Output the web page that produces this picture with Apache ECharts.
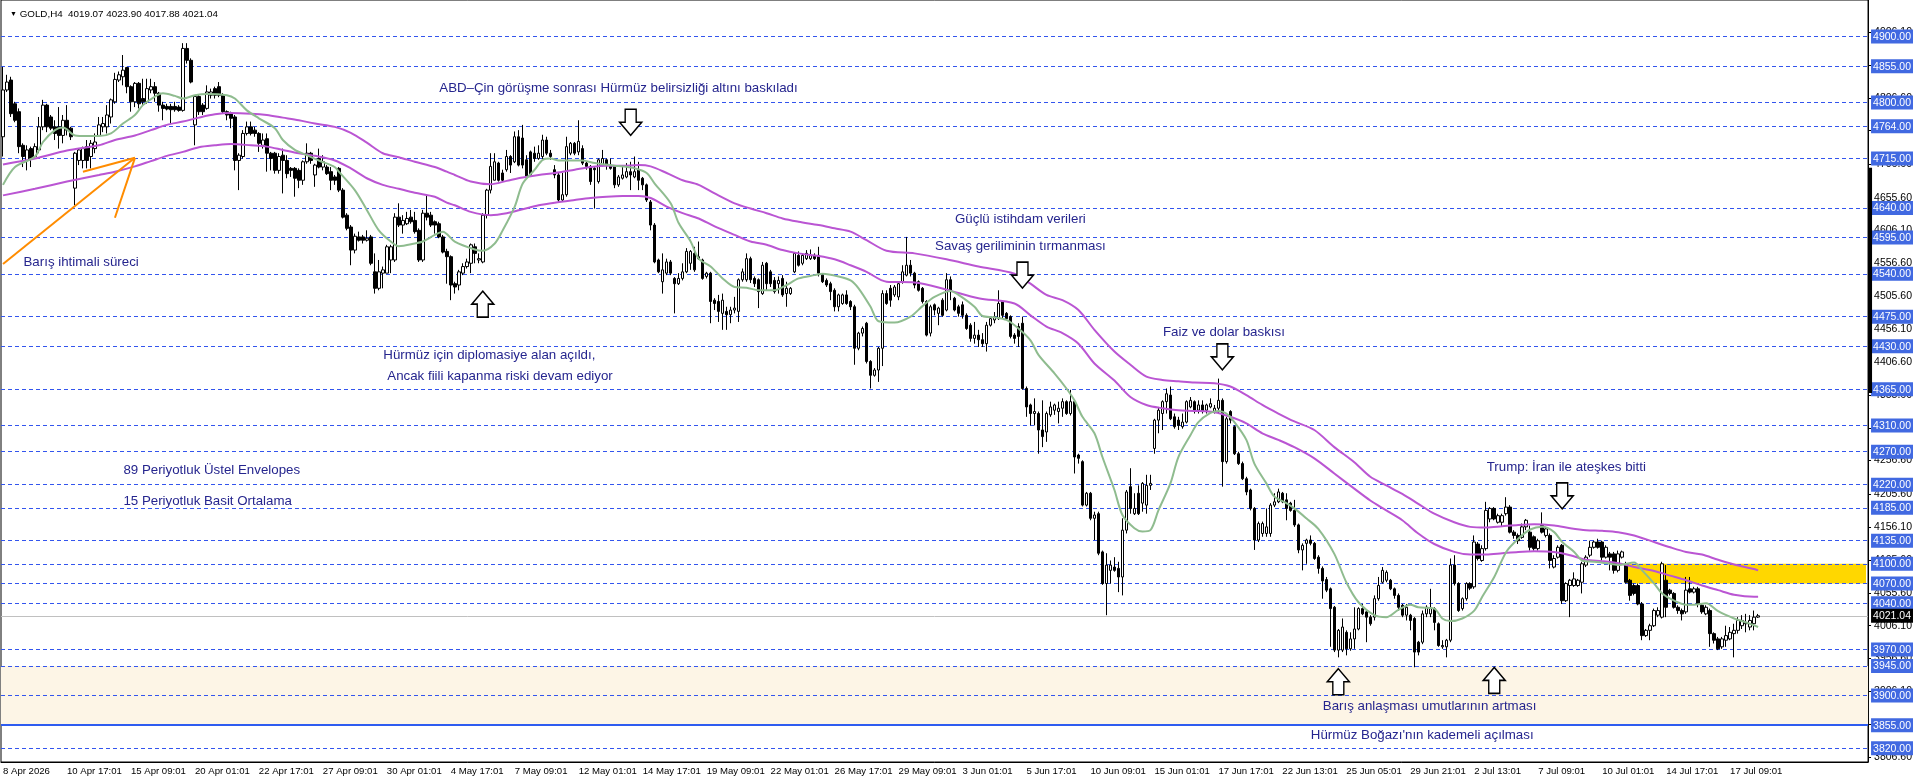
<!DOCTYPE html>
<html>
<head>
<meta charset="utf-8">
<title>GOLD,H4</title>
<script src="https://cdn.jsdelivr.net/npm/echarts@6/dist/echarts.min.js"></script>
<style>
html,body{margin:0;padding:0;background:#fff;}
#chart{width:1916px;height:782px;}
</style>
</head>
<body>
<div id="chart"></div>
<script>
var FONT = 'Liberation Sans, Arial, sans-serif';
var symbolName = 'GOLD,H4';
var lastOHLC = [4019.07, 4023.90, 4017.88, 4021.04]; // O H L C
var yMin = 3799.2, yMax = 4955.5;
var slotCount = 467; // 440 bars + empty space on the right

var dateLabels = ['8 Apr 2026','10 Apr 17:01','15 Apr 09:01','20 Apr 01:01','22 Apr 17:01','27 Apr 09:01',
  '30 Apr 01:01','4 May 17:01','7 May 09:01','12 May 01:01','14 May 17:01','19 May 09:01','22 May 01:01',
  '26 May 17:01','29 May 09:01','3 Jun 01:01','5 Jun 17:01','10 Jun 09:01','15 Jun 01:01','17 Jun 17:01',
  '22 Jun 13:01','25 Jun 05:01','29 Jun 21:01','2 Jul 13:01','7 Jul 09:01','10 Jul 01:01','14 Jul 17:01','17 Jul 09:01'];

// [open, close, low, high]
var candles = [
[4748,4819,4718,4854],[4819,4831,4816,4842],[4834,4783,4778,4839],[4798,4773,4770,4801],[4786,4733,4723,4791],[4735,4718,4702,4738],[4712,4728,4697,4735],[4730,4715,4702,4733],
[4718,4733,4715,4738],[4728,4763,4723,4778],[4763,4796,4758,4804],[4796,4763,4755,4798],[4778,4761,4758,4781],[4763,4753,4743,4773],[4763,4750,4730,4793],[4750,4773,4738,4781],
[4773,4758,4750,4796],[4761,4748,4743,4763],[4670,4723,4644,4725],[4712,4728,4705,4730],[4712,4730,4700,4733],[4733,4712,4700,4743],[4718,4738,4700,4743],[4730,4740,4723,4753],
[4750,4766,4748,4778],[4763,4768,4755,4778],[4763,4781,4753,4796],[4778,4804,4768,4806],[4801,4835,4798,4845],[4834,4842,4831,4847],[4839,4849,4826,4872],[4853,4824,4814,4854],
[4824,4801,4786,4826],[4801,4829,4793,4831],[4829,4798,4791,4831],[4806,4801,4796,4836],[4801,4821,4798,4836],[4819,4824,4814,4836],[4824,4814,4801,4831],[4814,4796,4786,4816],
[4796,4791,4773,4801],[4794,4790,4788,4798],[4794,4789,4768,4798],[4794,4789,4786,4801],[4793,4788,4786,4796],[4788,4882,4786,4890],[4882,4864,4859,4890],[4864,4831,4829,4867],
[4766,4809,4735,4811],[4809,4786,4781,4811],[4796,4786,4781,4799],[4791,4816,4789,4826],[4811,4816,4806,4821],[4821,4811,4806,4824],[4824,4811,4808,4831],[4811,4786,4783,4814],
[4786,4781,4773,4788],[4783,4776,4761,4786],[4778,4712,4697,4781],[4712,4720,4667,4723],[4718,4753,4715,4758],[4753,4763,4750,4771],[4763,4753,4750,4771],[4758,4753,4748,4763],
[4753,4738,4725,4755],[4735,4743,4730,4753],[4745,4723,4695,4753],[4723,4715,4697,4725],[4723,4697,4692,4725],[4697,4718,4692,4723],[4720,4712,4662,4730],[4712,4692,4685,4720],
[4700,4697,4687,4702],[4700,4685,4657,4702],[4697,4682,4670,4700],[4682,4710,4675,4712],[4710,4723,4707,4738],[4723,4712,4707,4725],[4690,4705,4672,4707],[4715,4702,4700,4730],
[4702,4710,4697,4720],[4702,4692,4690,4705],[4695,4682,4667,4702],[4687,4682,4675,4690],[4700,4667,4664,4702],[4667,4626,4624,4670],[4629,4609,4606,4632],[4611,4576,4553,4614],
[4576,4597,4571,4601],[4596,4591,4589,4604],[4596,4591,4586,4599],[4591,4594,4589,4606],[4596,4556,4553,4599],[4543,4518,4510,4571],[4518,4543,4515,4561],[4541,4546,4518,4551],
[4541,4581,4541,4584],[4561,4581,4541,4584],[4561,4626,4558,4632],[4626,4614,4611,4647],[4614,4621,4601,4629],[4616,4624,4614,4634],[4626,4619,4616,4637],[4621,4604,4601,4634],
[4606,4561,4558,4609],[4561,4632,4558,4637],[4632,4626,4621,4659],[4629,4614,4611,4634],[4619,4614,4601,4621],[4616,4596,4594,4619],[4596,4573,4571,4599],[4574,4566,4525,4578],
[4566,4523,4500,4568],[4525,4520,4510,4528],[4523,4543,4515,4546],[4541,4551,4538,4556],[4551,4558,4548,4563],[4556,4584,4541,4586],[4581,4571,4556,4586],[4561,4563,4556,4571],
[4558,4629,4556,4632],[4629,4667,4624,4669],[4667,4703,4662,4723],[4682,4710,4682,4723],[4708,4682,4680,4710],[4693,4682,4680,4698],[4698,4718,4695,4728],[4718,4705,4693,4720],
[4710,4748,4708,4756],[4748,4705,4703,4758],[4746,4705,4700,4766],[4713,4687,4685,4720],[4725,4690,4688,4727],[4723,4715,4710,4733],[4715,4723,4713,4735],[4718,4743,4713,4751],
[4743,4723,4720,4748],[4723,4718,4713,4728],[4698,4690,4685,4705],[4690,4652,4649,4693],[4652,4660,4649,4693],[4660,4733,4657,4748],[4723,4738,4720,4740],[4738,4723,4720,4740],
[4725,4741,4720,4773],[4730,4708,4705,4735],[4708,4703,4698,4710],[4703,4680,4675,4705],[4700,4698,4639,4703],[4680,4713,4677,4715],[4705,4715,4703,4728],[4713,4705,4698,4715],
[4705,4700,4698,4715],[4703,4675,4670,4705],[4675,4687,4672,4690],[4685,4690,4683,4705],[4687,4695,4685,4708],[4695,4690,4667,4710],[4687,4695,4685,4718],[4698,4682,4667,4710],
[4685,4675,4667,4687],[4675,4652,4649,4677],[4649,4614,4606,4652],[4614,4558,4556,4617],[4561,4543,4541,4563],[4528,4546,4510,4571],[4541,4558,4538,4563],[4558,4541,4538,4561],
[4533,4525,4480,4535],[4525,4533,4523,4541],[4533,4543,4530,4556],[4543,4574,4541,4579],[4556,4574,4546,4576],[4571,4546,4543,4581],[4566,4563,4561,4589],[4561,4533,4531,4563],
[4536,4541,4533,4543],[4541,4498,4465,4543],[4500,4495,4485,4503],[4498,4483,4467,4508],[4480,4500,4455,4510],[4483,4478,4455,4490],[4478,4485,4465,4490],[4485,4488,4480,4505],
[4483,4531,4467,4533],[4531,4543,4528,4548],[4531,4563,4528,4571],[4563,4531,4526,4566],[4533,4525,4520,4536],[4531,4513,4488,4533],[4510,4553,4508,4558],[4556,4525,4515,4558],
[4543,4525,4520,4546],[4530,4513,4510,4535],[4525,4530,4510,4536],[4533,4508,4505,4538],[4510,4518,4490,4528],[4510,4518,4508,4520],[4543,4571,4541,4573],[4568,4553,4551,4574],
[4556,4568,4553,4571],[4563,4571,4561,4576],[4563,4568,4561,4577],[4568,4563,4561,4571],[4568,4541,4536,4581],[4538,4528,4526,4541],[4530,4523,4520,4533],[4525,4513,4500,4528],
[4515,4490,4483,4518],[4490,4508,4483,4510],[4495,4508,4493,4510],[4508,4495,4493,4515],[4498,4490,4485,4500],[4490,4427,4402,4493],[4427,4450,4424,4452],[4450,4457,4445,4460],
[4465,4407,4404,4467],[4407,4386,4366,4409],[4386,4394,4384,4397],[4394,4427,4376,4429],[4427,4510,4400,4515],[4510,4495,4493,4515],[4518,4500,4490,4523],[4508,4520,4505,4523],
[4505,4525,4500,4528],[4528,4543,4525,4553],[4538,4553,4536,4596],[4553,4541,4536,4561],[4541,4523,4518,4543],[4528,4515,4513,4530],[4518,4498,4495,4520],[4498,4447,4445,4500],
[4450,4490,4445,4493],[4493,4485,4477,4495],[4480,4488,4462,4490],[4500,4477,4475,4503],[4485,4531,4483,4541],[4531,4513,4500,4536],[4503,4485,4483,4505],[4490,4480,4475,4493],
[4493,4477,4472,4498],[4477,4457,4455,4480],[4462,4442,4437,4465],[4442,4447,4434,4467],[4447,4440,4429,4455],[4440,4434,4429,4450],[4434,4462,4422,4467],[4462,4472,4460,4475],
[4470,4475,4465,4482],[4472,4495,4470,4515],[4498,4477,4472,4500],[4480,4472,4470,4482],[4475,4445,4442,4477],[4447,4442,4434,4450],[4460,4445,4429,4465],[4465,4366,4364,4475],
[4366,4338,4323,4369],[4341,4328,4310,4343],[4328,4331,4310,4351],[4328,4303,4267,4331],[4303,4293,4277,4348],[4300,4328,4285,4331],[4326,4338,4323,4346],[4333,4341,4326,4343],
[4331,4336,4313,4346],[4336,4346,4323,4351],[4346,4328,4326,4348],[4328,4346,4325,4364],[4346,4262,4237,4348],[4265,4260,4252,4267],[4255,4189,4187,4257],[4189,4207,4187,4209],
[4207,4169,4166,4209],[4169,4174,4136,4179],[4176,4116,4113,4179],[4118,4070,4068,4120],[4070,4098,4022,4116],[4090,4098,4070,4105],[4095,4090,4088,4110],[4093,4080,4057,4103],
[4080,4151,4052,4169],[4151,4209,4146,4212],[4217,4184,4176,4245],[4176,4184,4174,4207],[4207,4176,4174,4219],[4192,4222,4179,4224],[4189,4219,4176,4235],[4219,4222,4212,4235],
[4275,4318,4267,4320],[4318,4333,4298,4338],[4328,4346,4303,4348],[4346,4358,4328,4366],[4356,4320,4318,4369],[4323,4308,4305,4328],[4318,4310,4303,4323],[4308,4315,4305,4328],
[4315,4346,4313,4348],[4338,4348,4336,4353],[4346,4333,4328,4348],[4333,4341,4328,4348],[4341,4331,4328,4348],[4333,4341,4328,4343],[4338,4343,4336,4351],[4331,4336,4328,4341],
[4336,4348,4328,4381],[4348,4255,4217,4351],[4255,4320,4252,4323],[4331,4318,4313,4333],[4308,4267,4265,4310],[4267,4252,4250,4270],[4252,4229,4227,4255],[4229,4209,4204,4232],
[4212,4184,4181,4214],[4184,4136,4121,4186],[4136,4161,4133,4164],[4146,4161,4141,4164],[4146,4156,4141,4184],[4146,4189,4141,4192],[4189,4194,4186,4207],[4194,4209,4192,4214],
[4207,4194,4192,4209],[4197,4184,4166,4207],[4192,4181,4179,4194],[4181,4159,4156,4197],[4159,4121,4116,4161],[4121,4128,4090,4131],[4131,4136,4100,4138],[4136,4131,4128,4143],
[4131,4108,4106,4133],[4110,4093,4085,4113],[4093,4074,4047,4096],[4076,4060,4057,4080],[4062,4032,3974,4064],[4034,3969,3966,4036],[3969,3999,3958,4001],[3969,4004,3966,4017],
[3996,3971,3961,3999],[3971,3986,3968,3996],[3986,4001,3971,4034],[4001,4032,3999,4034],[4032,4024,4022,4039],[4027,4019,3981,4029],[4019,4009,4006,4022],[4019,4047,4014,4052],
[4047,4067,4044,4080],[4072,4090,4070,4095],[4075,4087,4072,4090],[4075,4062,4060,4077],[4062,4052,4047,4064],[4052,4034,4029,4055],[4037,4022,4019,4039],[4022,4034,4014,4039],
[4022,4014,3999,4024],[4017,3966,3943,4019],[3981,3966,3961,3983],[3981,4024,3978,4029],[4024,4034,4019,4037],[4024,4032,4019,4062],[4032,4011,3999,4034],[4009,3976,3974,4011],
[3974,3976,3971,3984],[3974,3984,3958,3986],[3984,4098,3981,4108],[4098,4070,4067,4113],[4070,4029,4027,4072],[4032,4047,4029,4049],[4047,4070,4044,4072],[4070,4063,4060,4072],
[4065,4133,4062,4143],[4130,4108,4105,4133],[4105,4123,4103,4128],[4123,4181,4120,4194],[4168,4184,4163,4186],[4184,4168,4166,4186],[4163,4173,4161,4176],[4163,4173,4156,4176],
[4176,4186,4173,4201],[4186,4148,4146,4189],[4148,4143,4138,4151],[4143,4135,4130,4146],[4140,4156,4138,4161],[4156,4166,4151,4168],[4148,4125,4120,4158],[4141,4123,4120,4143],
[4123,4135,4120,4138],[4158,4148,4146,4178],[4143,4153,4140,4156],[4143,4105,4093,4146],[4095,4108,4093,4113],[4110,4125,4108,4128],[4128,4044,4039,4130],[4044,4070,4042,4072],
[4067,4075,4019,4077],[4067,4077,4065,4087],[4067,4075,4065,4077],[4072,4100,4055,4103],[4098,4110,4095,4113],[4113,4125,4110,4135],[4125,4133,4123,4135],[4133,4125,4123,4138],
[4133,4110,4105,4135],[4110,4125,4108,4128],[4115,4110,4090,4118],[4115,4090,4085,4118],[4090,4115,4087,4120],[4110,4118,4108,4120],[4098,4072,4070,4103],[4075,4052,4044,4077],
[4067,4055,4052,4070],[4067,4039,4037,4070],[4039,3991,3984,4042],[3991,3999,3989,4001],[3999,4006,3984,4009],[4006,4029,4004,4032],[4022,4029,4019,4034],[4019,4100,4017,4103],
[4075,4034,4019,4098],[4060,4055,4052,4062],[4055,4034,4032,4057],[4034,4029,4024,4037],[4029,4024,4014,4032],[4027,4060,4024,4080],[4062,4057,4055,4080],[4057,4062,4055,4065],
[4062,4039,4034,4065],[4037,4027,4024,4039],[4024,4034,4022,4037],[4029,3994,3974,4032],[3994,3984,3979,3996],[3986,3971,3969,3989],[3974,3986,3971,3989],[3984,3991,3974,4006],
[3986,3996,3984,4004],[3994,3999,3958,4009],[3999,4014,3994,4019],[4006,4014,4001,4022],[4009,4011,3996,4024],[4004,4014,3999,4022],[4009,4019,3999,4029],[4019.07,4021.04,4017.88,4023.90]
];

// 15 period SMA, read as [bar, value]
var smaPoints = [[0,4675],[3,4702],[8,4718],[10,4740],[13,4758],[15,4762],[18,4750],[21,4749],[24,4749],[27,4753],[30,4768],
  [33,4781],[35,4796],[38,4809],[40,4814],[43,4810],[45,4806],[48,4811],[51,4813],[56,4811],[58,4806],[61,4788],[64,4776],
  [68,4761],[70,4743],[73,4728],[76,4720],[79,4712],[83,4702],[84,4695],[88,4667],[91,4637],[94,4606],[97,4589],[99,4582],
  [103,4586],[105,4589],[108,4599],[110,4604],[113,4589],[118,4577],[120,4575],[123,4586],[125,4606],[128,4642],[130,4677],
  [133,4698],[135,4713],[137,4715],[139,4712],[143,4712],[145,4712],[148,4708],[153,4704],[155,4703],[158,4700],[161,4693],
  [163,4677],[167,4647],[169,4617],[172,4589],[174,4563],[177,4551],[180,4533],[183,4520],[186,4519],[189,4515],[193,4515],
  [196,4523],[199,4533],[203,4538],[205,4540],[209,4536],[212,4530],[214,4518],[217,4490],[219,4468],[223,4466],[227,4475],
  [230,4491],[233,4505],[237,4514],[239,4508],[243,4490],[245,4476],[248,4474],[251,4470],[254,4457],[257,4439],[259,4417],
  [263,4389],[266,4366],[268,4348],[270,4323],[273,4298],[275,4262],[278,4212],[280,4174],[283,4154],[285,4149],[287,4151],
  [289,4181],[292,4222],[294,4262],[297,4295],[299,4315],[302,4329],[304,4332],[306,4328],[308,4315],[311,4288],[313,4252],
  [316,4222],[318,4202],[321,4192],[323,4184],[326,4169],[329,4153],[333,4115],[336,4072],[339,4042],[343,4022],[346,4019],
  [349,4030],[352,4038],[354,4034],[358,4032],[360,4017],[362,4013],[365,4017],[368,4029],[370,4050],[373,4080],[376,4118],
  [379,4138],[382,4152],[385,4156],[388,4148],[390,4133],[393,4118],[395,4105],[398,4103],[402,4100],[404,4098],[408,4102],
  [410,4090],[413,4070],[415,4055],[418,4044],[421,4038],[423,4038],[426,4040],[429,4028],[433,4017],[436,4011],[439,4004]];

// 89 period exponential envelopes
var envBars = [0,8,16,24,28,33,37,41,45,49,53,57,62,66,70,74,78,83,87,91,95,99,103,108,111,
  113,117,122,126,130,134,138,143,147,151,155,159,162,166,170,174,178,183,187,191,195,199,204,208,212,216,221,
  228,236,244,253,257,261,265,269,273,278,282,286,290,294,298,303,307,311,315,319,323,328,
  333,338,342,346,350,354,358,363,367,371,375,379,383,388,392,396,400,404,408,413,417,421,425,429,433,438,439];
var envUpper = [4706,4715,4727,4735,4743,4750,4758,4766,4771,4777,4782,4784,4783,4781,4777,4773,4768,4763,4754,4739,4723,4717,4710,4702,4695,
  4690,4680,4676,4681,4686,4690,4693,4698,4702,4704,4704,4705,4703,4693,4682,4675,4662,4647,4639,4632,4624,4619,4614,4609,4604,4591,4575,
  4571,4562,4551,4540,4525,4508,4500,4485,4455,4422,4402,4384,4379,4377,4375,4374,4369,4356,4341,4328,4316,4303,
  4277,4254,4232,4219,4206,4191,4176,4163,4156,4155,4157,4159,4160,4158,4154,4151,4150,4148,4143,4133,4125,4118,4114,4106,4099,4092,4090];
var envLower = [4659,4669,4680,4690,4695,4703,4711,4719,4725,4732,4735,4737,4735,4733,4728,4723,4719,4712,4700,4685,4675,4669,4663,4657,4648,
  4644,4634,4629,4632,4638,4644,4648,4652,4655,4657,4658,4658,4655,4642,4632,4624,4612,4599,4589,4584,4576,4571,4567,4562,4553,4543,4528,
  4527,4516,4503,4495,4477,4460,4450,4434,4404,4378,4353,4341,4336,4333,4332,4330,4323,4313,4298,4288,4277,4260,
  4237,4214,4196,4181,4166,4146,4130,4118,4114,4114,4116,4118,4119,4118,4113,4106,4104,4101,4095,4089,4082,4075,4067,4060,4053,4050,4050];

var levels = [4900,4855,4800,4764,4715,4640,4595,4540,4475,4430,4365,4310,4270,4220,4185,4135,4100,4070,4040,3970,3945,3900,3855,3820];
var solidLevel = 3855;
var scaleTicks = [3806.6,3856.1,3906.1,3956.6,4006.1,4055.6,4105.6,4156.1,4205.6,4256.6,4306.1,4355.6,4406.6,4456.1,
  4505.6,4556.6,4606.1,4655.6,4706.6,4758.1,4806.6,4856.1,4906.1];
var supportZone = [3945, 3855];
var resistZone = [406, 4100, 4070]; // from bar, top, bottom
var axisBar = [4701, 4359];

var notes = [
  ['ABD–Çin görüşme sonrası Hürmüz belirsizliği altını baskıladı', 109, 4822],
  ['Barış ihtimali süreci', 5, 4557],
  ['Hürmüz için diplomasiye alan açıldı,', 95, 4417],
  ['Ancak fiili kapanma riski devam ediyor', 96, 4384],
  ['Güçlü istihdam verileri', 238, 4622],
  ['Savaş geriliminin tırmanması', 233, 4581],
  ['Faiz ve dolar baskısı', 290, 4451],
  ['89 Periyotluk Üstel Envelopes', 30, 4242],
  ['15 Periyotluk Basit Ortalama', 30, 4195],
  ['Trump: İran ile ateşkes bitti', 371, 4247],
  ['Barış anlaşması umutlarının artması', 330, 3884],
  ['Hürmüz Boğazı\'nın kademeli açılması', 327, 3839]
];
var arrows = [['down',157,4770],['up',120,4494],['down',255,4538],['down',305,4414],['down',390,4203],['up',334,3921],['up',373,3923]];
var orangeLines = [[[0,4555],[33,4716]],[[28,4625],[33,4716]],[[20,4695],[33,4716]]];

var DOWN = 'path://M5.5,0H16.5V13H22L11,26L0,13H5.5Z';
var UP = 'path://M11,0L22,13H16.5V26H5.5V13H0Z';

var cats = [];
for (var i = 0; i < slotCount; i++) cats.push(String(i));
function isLabelSlot(idx) { return idx % 16 === 0 && idx / 16 < dateLabels.length; }

var chart = echarts.init(document.getElementById('chart'));

var levelLines = levels.map(function (v) {
  if (v === solidLevel) return { yAxis: v, lineStyle: { type: 'solid', width: 2, color: '#2E5CF0' } };
  return { yAxis: v };
});
levelLines.push({ yAxis: lastOHLC[3], lineStyle: { type: 'solid', color: '#C0C0C0', width: 1 } });

var pointMarks = notes.map(function (n) {
  return {
    coord: [n[1], n[2]], symbol: 'circle', symbolSize: 1, itemStyle: { color: 'rgba(0,0,0,0)' },
    label: { show: true, position: 'right', distance: 0, formatter: n[0], color: '#25258E', fontSize: 13.3, fontFamily: FONT }
  };
});
arrows.forEach(function (a) {
  pointMarks.push({
    coord: [a[1], a[2]], symbol: a[0] === 'up' ? UP : DOWN, symbolSize: [22, 26],
    itemStyle: { color: '#fff', borderColor: '#000', borderWidth: 1.5 }, label: { show: false }
  });
});

var option = {
  animation: false,
  backgroundColor: '#fff',
  title: {
    text: '{t|▼} ' + symbolName + '  ' + lastOHLC.map(function (v) { return v.toFixed(2); }).join(' '),
    left: 5, top: 4,
    textStyle: { fontSize: 9.8, fontWeight: 'normal', color: '#000', fontFamily: FONT, rich: { t: { fontSize: 7, color: '#000' } } }
  },
  grid: { left: 1, right: 47, top: 0, bottom: 20, show: true, borderColor: '#000', borderWidth: 1, backgroundColor: 'transparent' },
  xAxis: {
    type: 'category', data: cats, boundaryGap: true,
    axisLine: { lineStyle: { color: '#000', width: 1 } },
    axisTick: { interval: isLabelSlot, alignWithLabel: true, length: 4, lineStyle: { color: '#000' } },
    axisLabel: {
      interval: isLabelSlot, align: 'left', margin: 4, color: '#000', fontSize: 9.6, fontFamily: FONT,
      formatter: function (v, idx) { return isLabelSlot(idx) ? dateLabels[idx / 16] : ''; }
    },
    splitLine: { show: false }
  },
  yAxis: [{
    type: 'value', position: 'right', min: yMin, max: yMax, scale: true,
    splitLine: { show: false },
    axisLine: { show: true, lineStyle: { color: '#000' } },
    axisTick: { show: true, customValues: scaleTicks, length: 3, lineStyle: { color: '#000' } },
    axisLabel: { customValues: scaleTicks, margin: 6, color: '#000', fontSize: 10.5, fontFamily: FONT,
      formatter: function (v) { return v.toFixed(2); } }
  }, {
    type: 'value', position: 'right', min: yMin, max: yMax, z: 10,
    splitLine: { show: false }, axisLine: { show: false }, axisTick: { show: false },
    axisLabel: {
      customValues: levels.concat([lastOHLC[3]]), margin: 3, fontSize: 10.5, fontFamily: FONT,
      formatter: function (v) { return (v === lastOHLC[3] ? '{c|' : '{l|') + v.toFixed(2) + '}'; },
      rich: {
        l: { backgroundColor: '#4169E1', color: '#fff', padding: [2, 2, 1, 2], fontSize: 10.5, fontFamily: FONT },
        c: { backgroundColor: '#000', color: '#fff', padding: [2, 2, 1, 2], fontSize: 10.5, fontFamily: FONT }
      }
    }
  }],
  series: [{
    type: 'line', data: [], z: 1, silent: true,
    markArea: {
      silent: true, z: 1,
      data: [
        [{ yAxis: supportZone[0], itemStyle: { color: '#FDF5E6' } }, { yAxis: supportZone[1] }],
        [{ xAxis: resistZone[0], yAxis: resistZone[1], itemStyle: { color: '#FFD700' } }, { xAxis: slotCount - 1, yAxis: resistZone[2] }]
      ]
    },
    markLine: {
      silent: true, z: 2, symbol: ['none', 'none'], label: { show: false },
      lineStyle: { type: [4, 3], color: '#3355EE', width: 1 },
      data: levelLines
    }
  }, {
    type: 'candlestick', z: 3, barWidth: 3, data: candles,
    itemStyle: { color: '#fff', color0: '#000', borderColor: '#000', borderColor0: '#000', borderWidth: 1 }
  }, {
    type: 'line', z: 4, data: envBars.map(function (b, k) { return [b, envUpper[k]]; }),
    showSymbol: false, smooth: 0.3, lineStyle: { color: '#BA55D3', width: 2 }
  }, {
    type: 'line', z: 4, data: envBars.map(function (b, k) { return [b, envLower[k]]; }),
    showSymbol: false, smooth: 0.3, lineStyle: { color: '#BA55D3', width: 2 }
  }, {
    type: 'line', z: 4, data: smaPoints,
    showSymbol: false, smooth: 0.3, lineStyle: { color: '#8FBC8F', width: 2 }
  }, {
    type: 'line', data: [], z: 6, silent: true,
    markLine: {
      silent: true, z: 6, symbol: ['none', 'none'], label: { show: false },
      lineStyle: { type: 'solid', color: '#FF8C00', width: 2 },
      data: orangeLines.map(function (s) { return [{ coord: s[0] }, { coord: s[1] }]; })
    },
    markPoint: { silent: true, z: 7, data: pointMarks }
  }]
};

chart.setOption(option);

// thick marker on the price scale
var xr = chart.convertToPixel({ xAxisIndex: 0 }, slotCount - 1) + 2;
var yTop = chart.convertToPixel({ yAxisIndex: 0 }, axisBar[0]);
var yBot = chart.convertToPixel({ yAxisIndex: 0 }, axisBar[1]);
chart.setOption({ graphic: [{ type: 'rect', zlevel: 1, z: 100, silent: true,
  shape: { x: xr, y: yTop, width: 4, height: yBot - yTop }, style: { fill: '#000' } }] });
</script>
</body>
</html>
